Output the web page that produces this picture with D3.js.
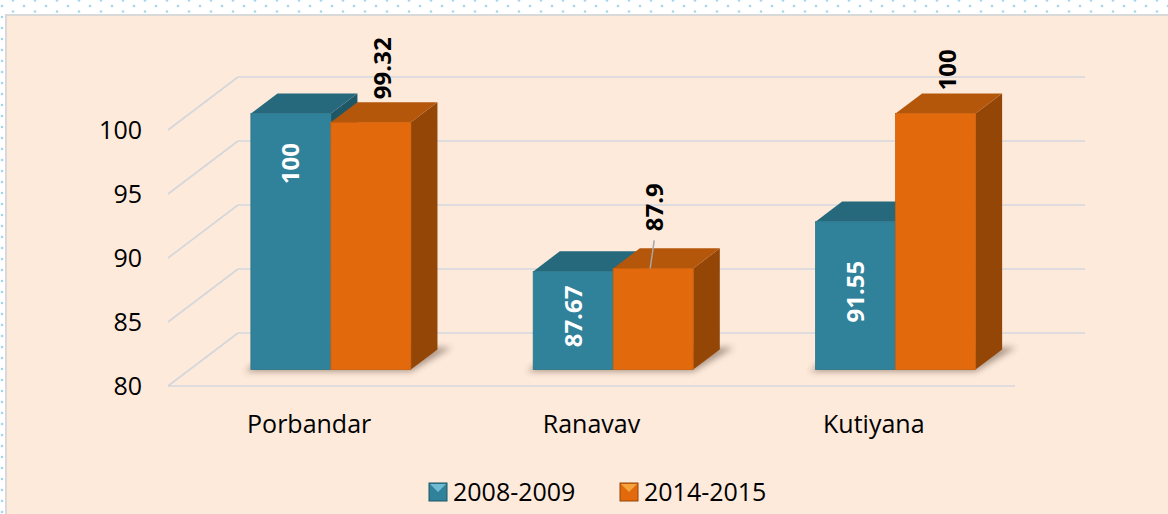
<!DOCTYPE html>
<html>
<head>
<meta charset="utf-8">
<script src="https://cdn.jsdelivr.net/npm/d3@7"></script>
<style>
body { margin: 0; background: #fff; }
text { font-family: "Open Sans", Lato, sans-serif; }
</style>
</head>
<body>
<div id="wrapper"></div>
<script>
var categories = ["Porbandar", "Ranavav", "Kutiyana"]
var seriesNames = ["2008-2009", "2014-2015"]
var values2008 = [100, 87.67, 91.55]
var values2014 = [99.32, 87.9, 100]
var yTicks = [80, 85, 90, 95, 100]

var palette = [
    {front: "#30829A", top: "#27697C", side: "#1F5766", light: "#7FCBE0"},
    {front: "#E36A0C", top: "#B5570A", side: "#944606", light: "#F9B24A"}
]

function drawChart() {
    var width = 1168, height = 514

    // 3d box: front plane of the floor, and offset of the back wall
    var depth = {dx: 70, dy: -53}
    var barPlane = 0.31
    var barDepth = 0.38

    var x0 = d3.scaleBand().domain(categories).range([168, 1015])
    var x1 = d3.scaleBand().domain(seriesNames).range([0, 160])
    var y = d3.scaleLinear().domain([80, 100]).range([386, 130])

    var svg = d3.select("#wrapper")
        .append("svg")
        .attr("width", width)
        .attr("height", height)

    var defs = svg.append("defs")
    var pat = defs.append("pattern")
        .attr("id", "dots")
        .attr("patternUnits", "userSpaceOnUse")
        .attr("width", 22).attr("height", 11)
    pat.append("circle").attr("cx", 2).attr("cy", 6).attr("r", 1.3).attr("fill", "#A6D6EC")
    pat.append("circle").attr("cx", 13).attr("cy", 0.5).attr("r", 1.3).attr("fill", "#A6D6EC")
    pat.append("circle").attr("cx", 13).attr("cy", 11.5).attr("r", 1.3).attr("fill", "#A6D6EC")

    defs.append("filter").attr("id", "blur")
        .attr("x", "-20%").attr("y", "-50%").attr("width", "140%").attr("height", "200%")
        .append("feGaussianBlur").attr("stdDeviation", 3)

    svg.append("rect").attr("width", width).attr("height", height).attr("fill", "url(#dots)")
    svg.append("rect")
        .attr("x", 6).attr("y", 15)
        .attr("width", width).attr("height", height)
        .attr("fill", "#FDEADB")
        .attr("stroke", "#D9D9D9")
        .attr("stroke-width", 2)

    // gridlines: back wall + side diagonals
    var grid = svg.append("g")
        .attr("stroke", "#D3D7DC")
        .attr("stroke-width", 1.6)
        .attr("fill", "none")

    grid.selectAll(".back").data(yTicks).enter()
        .append("line")
        .attr("x1", 168 + depth.dx).attr("x2", 1015 + depth.dx)
        .attr("y1", d => y(d) + depth.dy).attr("y2", d => y(d) + depth.dy)

    grid.selectAll(".side").data(yTicks).enter()
        .append("line")
        .attr("x1", 168).attr("y1", d => y(d))
        .attr("x2", 168 + depth.dx).attr("y2", d => y(d) + depth.dy)

    grid.append("line")
        .attr("x1", 168).attr("x2", 1015)
        .attr("y1", y(80)).attr("y2", y(80))

    svg.append("g").selectAll("text")
        .data(yTicks).enter()
        .append("text")
        .attr("x", 142)
        .attr("y", d => y(d))
        .attr("dy", "0.35em")
        .attr("text-anchor", "end")
        .style("font-size", "25px")
        .attr("fill", "#000")
        .text(d => d)

    // bars
    var bars = []
    categories.forEach((c, i) => {
        bars.push({cat: c, series: 0, value: values2008[i]})
        bars.push({cat: c, series: 1, value: values2014[i]})
    })

    var bx = barPlane * depth.dx, by = barPlane * depth.dy
    var ddx = barDepth * depth.dx, ddy = barDepth * depth.dy

    bars.forEach(b => {
        b.x = x0(b.cat) + (x0.bandwidth() - 160) / 2 + x1(seriesNames[b.series]) + bx
        b.w = x1.bandwidth()
        b.bottom = y(80) + by
        b.top = y(b.value) + by
    })

    var shadowG = svg.append("g").attr("filter", "url(#blur)").attr("opacity", 0.45)
    categories.forEach(c => {
        var g = bars.filter(b => b.cat === c)
        var xl = g[0].x, xr = g[1].x + g[1].w
        var yb = g[0].bottom
        shadowG.append("path")
            .attr("d", `M${xl - 6},${yb + 2} L${xr},${yb + 2} L${xr + ddx + 14},${yb + ddy - 2} L${xl + ddx},${yb + ddy - 2} Z`)
            .attr("fill", "#4A3020")
    })

    var barG = svg.append("g")
    bars.forEach(b => {
        var col = palette[b.series]
        var g = barG.append("g")
        // side face
        g.append("path")
            .attr("d", `M${b.x + b.w},${b.top} L${b.x + b.w + ddx},${b.top + ddy} L${b.x + b.w + ddx},${b.bottom + ddy} L${b.x + b.w},${b.bottom} Z`)
            .attr("fill", col.side)
        // top face
        g.append("path")
            .attr("d", `M${b.x},${b.top} L${b.x + ddx},${b.top + ddy} L${b.x + b.w + ddx},${b.top + ddy} L${b.x + b.w},${b.top} Z`)
            .attr("fill", col.top)
        // front face
        g.append("rect")
            .attr("x", b.x).attr("y", b.top)
            .attr("width", b.w).attr("height", b.bottom - b.top)
            .attr("fill", col.front)
            .attr("stroke", d3.color(col.front).darker(0.3))
            .attr("stroke-width", 0.8)
    })

    // value labels
    var maxVal = d3.max(values2008)
    var labelG = svg.append("g").style("font-weight", "bold").style("font-size", "24px")
    bars.forEach(b => {
        var cx = b.x + b.w / 2
        if (b.series === 0) {
            var cy = b.value === maxVal ? b.top + 50 : (b.top + b.bottom) / 2 - 4
            labelG.append("text")
                .attr("transform", `translate(${cx},${cy}) rotate(-90)`)
                .attr("text-anchor", "middle")
                .attr("dy", "0.35em")
                .attr("fill", "#fff")
                .text(b.value)
        } else {
            var lx = cx + 12, ly = b.top + ddy - 3
            if (b.cat === "Ranavav") {
                // label dragged up with a leader line
                lx = cx + 1
                ly = ly - 14
                labelG.append("line")
                    .attr("x1", lx).attr("y1", ly + 9)
                    .attr("x2", cx - 3).attr("y2", b.top)
                    .attr("stroke", "#A6A6A6").attr("stroke-width", 1.5)
            }
            labelG.append("text")
                .attr("transform", `translate(${lx},${ly}) rotate(-90)`)
                .attr("text-anchor", "start")
                .attr("dy", "0.35em")
                .attr("fill", "#000")
                .text(b.value)
        }
    })

    // category labels
    svg.append("g").selectAll("text")
        .data(categories).enter()
        .append("text")
        .attr("x", d => x0(d) + x0.bandwidth() / 2)
        .attr("y", 424)
        .attr("dy", "0.35em")
        .attr("text-anchor", "middle")
        .style("font-size", "25px")
        .text(d => d)

    // legend
    var legendX = [429, 620]
    var legend = svg.append("g")
    seriesNames.forEach((s, i) => {
        var col = palette[i]
        var lg = legend.append("g").attr("transform", `translate(${legendX[i]},483)`)
        lg.append("rect").attr("width", 18).attr("height", 18)
            .attr("fill", col.front)
            .attr("stroke", col.side).attr("stroke-width", 1)
        lg.append("path").attr("d", "M1,1 L17,1 L9,9 Z").attr("fill", col.light).attr("opacity", 0.8)
        lg.append("text")
            .attr("x", 24).attr("y", 9)
            .attr("dy", "0.35em")
            .style("font-size", "25px")
            .text(s)
    })
}

drawChart()
</script>
</body>
</html>
